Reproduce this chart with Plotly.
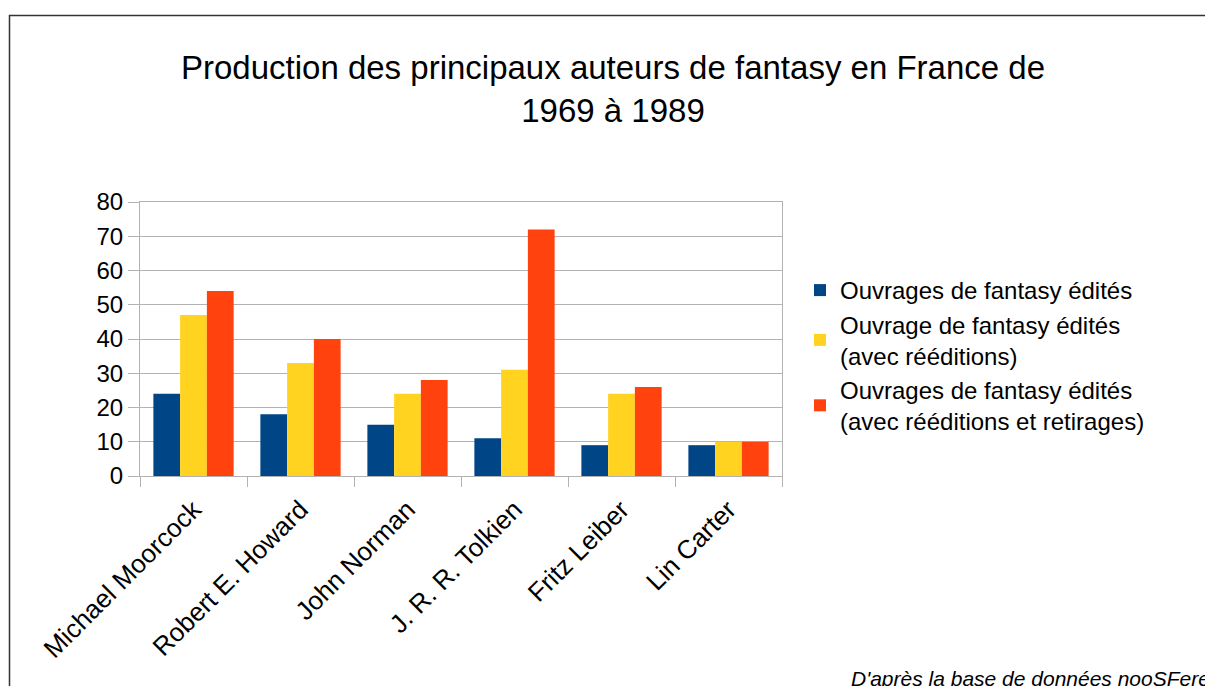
import plotly.graph_objects as go

authors = ["Michael Moorcock", "Robert E. Howard", "John Norman",
           "J. R. R. Tolkien", "Fritz Leiber", "Lin Carter"]
edites = [24, 18, 15, 11, 9, 9]
reeditions = [47, 33, 24, 31, 24, 10]
retirages = [54, 40, 28, 72, 26, 10]
series_names = ["Ouvrages de fantasy édités",
                "Ouvrage de fantasy édités<br>(avec rééditions)",
                "Ouvrages de fantasy édités<br>(avec rééditions et retirages)"]
colors = ["#004586", "#ffd320", "#ff420e"]
y_ticks = [0, 10, 20, 30, 40, 50, 60, 70, 80]

FONT = "Liberation Sans, Arial, sans-serif"
W, H = 1205, 686
L, R, T, B = 140, 782, 202, 476


def px_x(p):  # page pixel -> paper x
    return (p - L) / (R - L)


def px_y(p):  # page pixel -> paper y
    return (B - p) / (B - T)


fig = go.Figure()
for name, vals, col in zip(series_names, [edites, reeditions, retirages], colors):
    fig.add_trace(go.Bar(x=authors, y=vals, name=name, marker_color=col,
                         marker_line_width=0, legendgroup=name))

fig.update_layout(
    width=W, height=H,
    margin=dict(l=L, r=W - R, t=T, b=H - B, autoexpand=False),
    paper_bgcolor="white", plot_bgcolor="white",
    font=dict(family=FONT, color="#000000", size=24),
    title=dict(text="Production des principaux auteurs de fantasy en France de<br>1969 à 1989",
               x=613 / W, xref="container", xanchor="center",
               y=1 - 79 / H, yref="container", yanchor="middle",
               font=dict(size=33, family=FONT, color="#000000")),
    barmode="group", bargap=0.25, bargroupgap=0,
    showlegend=True,
    legend=dict(xref="container", x=800 / W, xanchor="left",
                yref="paper", y=px_y(268), yanchor="top",
                font=dict(size=24, family=FONT, color="#000000"),
                traceorder="grouped", tracegroupgap=0,
                bgcolor="rgba(0,0,0,0)"),
    xaxis=dict(type="category", tickangle=-45, ticks="outside", tickson="boundaries",
               ticklen=10, tickcolor="#b3b3b3", tickwidth=1, ticklabelstandoff=7,
               showline=True, linecolor="#b3b3b3", linewidth=1, mirror=True,
               showgrid=False, tickfont=dict(size=26, family=FONT, color="#000000")),
    yaxis=dict(range=[0, 80], tickvals=y_ticks, ticks="outside", ticklen=11,
               tickcolor="#b3b3b3", tickwidth=1,
               showline=True, linecolor="#b3b3b3", linewidth=1, mirror=True,
               showgrid=True, gridcolor="#b3b3b3", gridwidth=1, zeroline=False,
               tickfont=dict(size=24, family=FONT, color="#000000")),
)

# outer frame
fig.add_shape(type="rect", xref="paper", yref="paper",
              x0=px_x(9.5), x1=px_x(1215),
              y0=px_y(700), y1=px_y(15.5),
              line=dict(color="#333333", width=1.5), fillcolor="rgba(0,0,0,0)", layer="below")

fig.add_annotation(text="<i>D'après la base de données nooSFere</i>",
                   xref="paper", yref="paper",
                   x=px_x(849), y=px_y(678),
                   xanchor="left", yanchor="middle", showarrow=False,
                   font=dict(size=21, family=FONT, color="#000000"))

fig.write_html("out.html", config={"displayModeBar": False},
               post_script="document.body.style.margin='0';document.body.style.overflow='hidden';")
